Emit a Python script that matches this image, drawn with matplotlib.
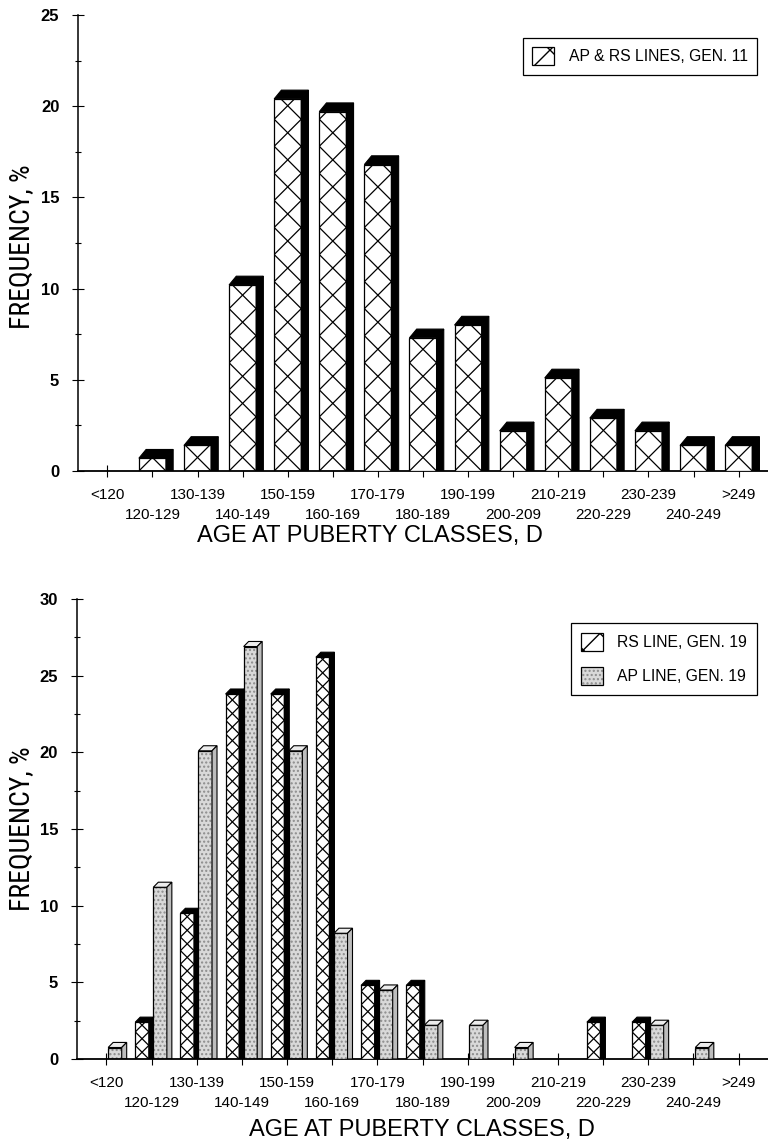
import numpy as np
import matplotlib.pyplot as plt
from matplotlib import font_manager
from matplotlib.patches import Polygon, Patch
from matplotlib.legend_handler import HandlerTuple
from matplotlib.ticker import MultipleLocator

plt.rcParams['font.family'] = ['Liberation Sans', 'DejaVu Sans']

# the y titles are set in a narrow face in the scan
avail = {f.name for f in font_manager.fontManager.ttflist}
narrow = next((n for n in ['Liberation Sans Narrow', 'Roboto Condensed', 'Archivo Narrow',
                           'PT Sans Narrow'] if n in avail), None)

classes = ["<120", "120-129", "130-139", "140-149", "150-159", "160-169",
           "170-179", "180-189", "190-199", "200-209", "210-219", "220-229",
           "230-239", "240-249", ">249"]
# frequency, % -- AP & RS lines together, generation 11
gen11 = [0, 0.7, 1.4, 10.2, 20.4, 19.7, 16.8, 7.3, 8.0, 2.2, 5.1, 2.9, 2.2, 1.4, 1.4]
# generation 19, lines apart
rs19 = [0, 2.4, 9.5, 23.8, 23.8, 26.2, 4.8, 4.8, 0, 0, 0, 2.4, 2.4, 0, 0]
ap19 = [0.75, 11.2, 20.1, 26.9, 20.1, 8.2, 4.5, 2.2, 2.2, 0.75, 0, 0, 2.2, 0.75, 0]

x = np.arange(len(classes))

fig = plt.figure(figsize=(7.68, 11.42), dpi=100)
ax1 = fig.add_axes([78/768, 1 - 471/1142, 690/768, 456/1142])
ax2 = fig.add_axes([77/768, 1 - 1059/1142, 691/768, 460/1142])
ax1.set_xlim(-0.65, 14.65)
ax1.set_ylim(0, 25)
ax2.set_xlim(-0.65, 14.65)
ax2.set_ylim(0, 30)


def px_per_unit(ax):
    pos = ax.get_position()
    w = pos.width * fig.get_figwidth() * fig.dpi
    h = pos.height * fig.get_figheight() * fig.dpi
    x0, x1 = ax.get_xlim()
    y0, y1 = ax.get_ylim()
    return w / (x1 - x0), h / (y1 - y0)


def crosshatch(ax, bar, z):
    # one big X per bar width, clipped to the front face
    x0, w, h = bar.get_x(), bar.get_width(), bar.get_height()
    sx, sy = px_per_unit(ax)
    step = w * sx / sy
    n = int(np.ceil(h / step)) + 1
    for k in range(n):
        for xa, xb in [(x0, x0 + w), (x0 + w, x0)]:
            ln, = ax.plot([xa, xb], [k * step, (k + 1) * step], color='black',
                          lw=0.9, zorder=z)
            ln.set_clip_path(bar)


def box3d(ax, bar, dx, dy, top, side, z):
    x0, w, h = bar.get_x(), bar.get_width(), bar.get_height()
    ax.add_patch(Polygon([(x0, h), (x0 + dx, h + dy), (x0 + w + dx, h + dy), (x0 + w, h)],
                         closed=True, facecolor=top, edgecolor='black', lw=0.8, zorder=z))
    ax.add_patch(Polygon([(x0 + w, 0), (x0 + w + dx, 0), (x0 + w + dx, h + dy), (x0 + w, h)],
                         closed=True, facecolor=side, edgecolor='black', lw=0.8, zorder=z))


# %% top: generation 11
bars = ax1.bar(x, gen11, width=0.6, color='white', edgecolor='black', lw=0.9)
for i, b in enumerate(bars):
    if gen11[i] == 0:
        b.set_visible(False)
        continue
    z = 2 + i * 0.1
    b.set_zorder(z)
    crosshatch(ax1, b, z + 0.01)
    box3d(ax1, b, 0.16, 0.48, 'black', 'black', z + 0.02)

# %% bottom: generation 19
rs_bars = ax2.bar(x - 0.21, rs19, width=0.3, color='white', edgecolor='black', lw=0.9)
ap_bars = ax2.bar(x + 0.19, ap19, width=0.3, color='#d9d9d9', edgecolor='#8c8c8c',
                  hatch='....', lw=0)
ap_out = ax2.bar(x + 0.19, ap19, width=0.3, fill=False, edgecolor='black', lw=0.9)
for i in range(len(classes)):
    z = 2 + i * 0.1
    b = rs_bars[i]
    if rs19[i] == 0:
        b.set_visible(False)
    else:
        b.set_zorder(z)
        crosshatch(ax2, b, z + 0.01)
        box3d(ax2, b, 0.11, 0.33, 'black', 'black', z + 0.02)
    b, bo = ap_bars[i], ap_out[i]
    if ap19[i] == 0:
        b.set_visible(False)
        bo.set_visible(False)
    else:
        b.set_zorder(z + 0.05)
        bo.set_zorder(z + 0.06)
        box3d(ax2, b, 0.11, 0.33, '#ececec', '#bdbdbd', z + 0.07)

# %% axes styling -- class labels staggered on two rows (even = major, odd = minor ticks)
for ax in (ax1, ax2):
    ax.spines[['top', 'right']].set_visible(False)
    ax.spines['left'].set_linewidth(1.1)
    ax.spines['bottom'].set_linewidth(1.3)
    ax.set_xticks(x[::2], classes[::2], fontsize=11)
    ax.set_xticks(x[1::2], classes[1::2], minor=True, fontsize=11)
    ax.tick_params(axis='x', which='major', direction='inout', length=8, width=0.8, pad=8)
    ax.tick_params(axis='x', which='minor', direction='inout', length=8, width=0.8, pad=22.5)
    ax.tick_params(axis='y', direction='inout', length=9, width=0.8, pad=9, labelsize=12)
    ax.yaxis.set_major_locator(MultipleLocator(5))
    ax.yaxis.set_minor_locator(MultipleLocator(2.5))
    ax.tick_params(axis='y', which='minor', direction='inout', length=5, width=0.8)
    for t in ax.get_yticklabels():
        t.set_fontweight('bold')

if narrow:
    ykw = dict(fontsize=20, family=[narrow, 'Liberation Sans'])
else:
    ykw = dict(fontsize=15.5)
fig.text(22/768, 1 - 247/1142, 'FREQUENCY, %', rotation=90, ha='center', va='center', **ykw)
fig.text(22/768, 1 - 829/1142, 'FREQUENCY, %', rotation=90, ha='center', va='center', **ykw)
fig.text(370/768, 1 - 536/1142, 'AGE AT PUBERTY CLASSES, D', ha='center', va='center', fontsize=17)
fig.text(422/768, 1 - 1130/1142, 'AGE AT PUBERTY CLASSES, D', ha='center', va='center', fontsize=17)

# %% legends
h11 = Patch(facecolor='white', edgecolor='black', hatch='x', lw=0.9)
leg = ax1.legend([h11], ['AP & RS LINES, GEN. 11'], loc='upper right',
                 bbox_to_anchor=(0.984, 0.95), borderaxespad=0, fancybox=False,
                 edgecolor='black', framealpha=1, fontsize=11.3, handlelength=1.4,
                 handleheight=1.4, borderpad=0.6, handletextpad=0.9)
leg.get_frame().set_linewidth(0.9)

h_rs = Patch(facecolor='white', edgecolor='black', hatch='x', lw=0.9)
h_ap = (Patch(facecolor='#d9d9d9', edgecolor='#8c8c8c', hatch='....', lw=0),
        Patch(fill=False, edgecolor='black', lw=0.9))
leg2 = ax2.legend([h_rs, h_ap], ['RS LINE, GEN. 19', 'AP LINE, GEN. 19'], loc='upper right',
                  bbox_to_anchor=(0.984, 0.948), borderaxespad=0, fancybox=False,
                  edgecolor='black', framealpha=1, fontsize=11.3, handlelength=1.4,
                  handleheight=1.4, borderpad=0.65, handletextpad=0.9, labelspacing=1.0,
                  handler_map={tuple: HandlerTuple(ndivide=1, pad=0)})
leg2.get_frame().set_linewidth(0.9)

fig.savefig('out.png', dpi=100)
